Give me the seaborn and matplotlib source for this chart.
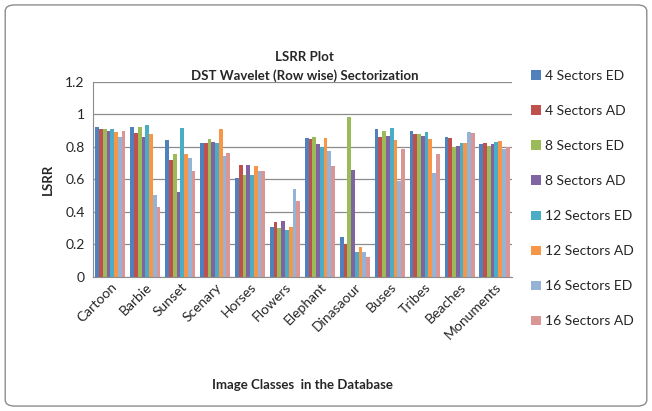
import matplotlib
matplotlib.use("Agg")
import matplotlib.pyplot as plt
from matplotlib.patches import FancyBboxPatch
from matplotlib.ticker import FixedLocator, FuncFormatter
import pandas as pd
import seaborn as sns

# LSRR values
classes = ["Cartoon", "Barbie", "Sunset", "Scenary", "Horses", "Flowers",
           "Elephant", "Dinasaour", "Buses", "Tribes", "Beaches", "Monuments"]
series = ["4 Sectors ED", "4 Sectors AD", "8 Sectors ED", "8 Sectors AD",
          "12 Sectors ED", "12 Sectors AD", "16 Sectors ED", "16 Sectors AD"]

s4_ed = [0.923, 0.923, 0.839, 0.823, 0.609, 0.306, 0.853, 0.244, 0.907, 0.898, 0.862, 0.814]
s4_ad = [0.907, 0.882, 0.718, 0.823, 0.687, 0.336, 0.845, 0.199, 0.862, 0.876, 0.853, 0.823]
s8_ed = [0.907, 0.923, 0.753, 0.845, 0.626, 0.297, 0.862, 0.983, 0.898, 0.876, 0.800, 0.806]
s8_ad = [0.898, 0.862, 0.519, 0.831, 0.687, 0.345, 0.814, 0.654, 0.868, 0.868, 0.806, 0.814]
s12_ed = [0.907, 0.931, 0.915, 0.823, 0.626, 0.285, 0.800, 0.154, 0.915, 0.890, 0.823, 0.831]
s12_ad = [0.890, 0.876, 0.753, 0.909, 0.679, 0.306, 0.853, 0.183, 0.839, 0.845, 0.823, 0.837]
s16_ed = [0.862, 0.503, 0.732, 0.741, 0.648, 0.542, 0.775, 0.154, 0.587, 0.640, 0.890, 0.784]
s16_ad = [0.898, 0.429, 0.648, 0.761, 0.648, 0.466, 0.679, 0.123, 0.786, 0.753, 0.882, 0.798]

colors = ["#4F81BD", "#C0504D", "#9BBB59", "#8064A2",
          "#4BACC6", "#F79646", "#95B3D7", "#D99694"]

rows = []
for name, vals in zip(series, [s4_ed, s4_ad, s8_ed, s8_ad, s12_ed, s12_ad, s16_ed, s16_ad]):
    for c, v in zip(classes, vals):
        rows.append({"cls": c, "series": name, "lsrr": v})
df = pd.DataFrame(rows)

sns.set_style("white")
plt.rcParams["font.family"] = ["Lato", "DejaVu Sans"]

fig = plt.figure(figsize=(6.52, 4.11), dpi=100)
ax = fig.add_axes([0.1426, 0.3268, 0.6426, 0.4744])

sns.barplot(data=df, x="cls", y="lsrr", hue="series", order=classes,
            hue_order=series, palette=colors, width=0.86, saturation=1,
            linewidth=0, ax=ax)

ax.set_ylim(0, 1.2)
ax.set_xlim(-0.5, len(classes) - 0.5)
ax.yaxis.set_major_locator(FixedLocator([0, 0.2, 0.4, 0.6, 0.8, 1.0, 1.2]))
ax.yaxis.set_major_formatter(FuncFormatter(lambda v, p: f"{v:g}"))
ax.grid(axis="y", color="#8c8c8c", linewidth=0.9)
ax.set_axisbelow(True)
for side in ["top", "right"]:
    ax.spines[side].set_visible(False)
for side in ["left", "bottom"]:
    ax.spines[side].set_color("#8c8c8c")

# excel-style ticks between categories
ax.set_xticks([i - 0.5 for i in range(len(classes) + 1)], minor=True)
ax.tick_params(axis="x", which="minor", length=4, color="#8c8c8c")
ax.tick_params(axis="x", which="major", length=0, pad=3)
ax.tick_params(axis="y", length=0, labelsize=10, pad=6)
plt.setp(ax.get_xticklabels(), rotation=45, ha="right", rotation_mode="anchor",
         fontsize=10)

ax.set_xlabel("Image Classes  in the Database", fontsize=9.5, fontweight="bold",
              labelpad=27)
ax.set_ylabel("LSRR", fontsize=9.5, fontweight="bold", labelpad=8)

fig.text(0.467, 0.862, "LSRR Plot", ha="center", va="center",
         fontsize=9.5, fontweight="bold")
fig.text(0.467, 0.815, "DST Wavelet (Row wise) Sectorization", ha="center",
         va="center", fontsize=9.5, fontweight="bold")

handles, labels = ax.get_legend_handles_labels()
ax.legend_.remove()
fig.legend(handles, labels, loc="upper left", bbox_to_anchor=(0.795, 0.86),
           frameon=False, fontsize=10, handlelength=0.7, handleheight=0.7,
           handletextpad=0.3, labelspacing=1.66)

fig.patches.append(FancyBboxPatch((0.008, 0.012), 0.984, 0.976,
                                  boxstyle="round,pad=0,rounding_size=0.015",
                                  transform=fig.transFigure, fill=False,
                                  edgecolor="#8c8c8c", linewidth=1.0))

fig.savefig("out.png", dpi=100)
